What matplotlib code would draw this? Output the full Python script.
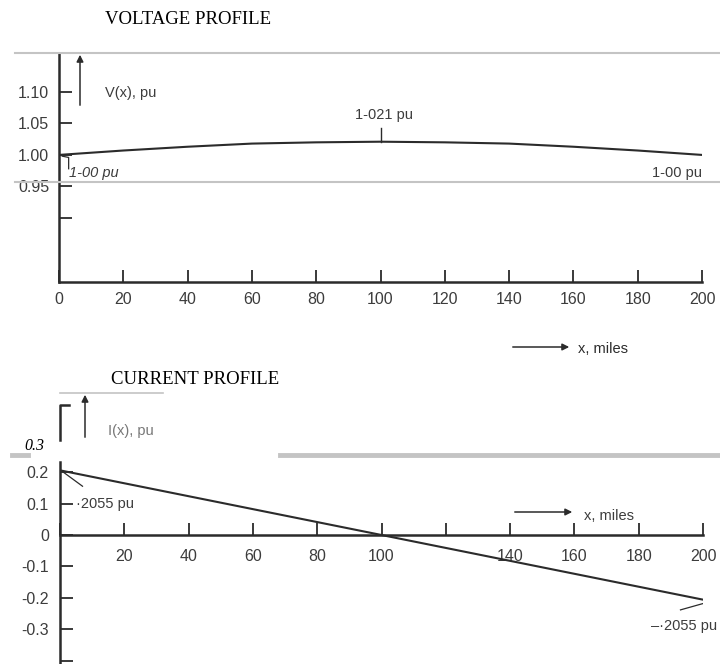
import matplotlib.pyplot as plt

# voltage profile along the 200-mile line
miles = [0, 20, 40, 60, 80, 100, 120, 140, 160, 180, 200]
voltage_pu = [1.000, 1.007, 1.013, 1.018, 1.020, 1.021, 1.020, 1.018, 1.013, 1.007, 1.000]

# current profile: straight line from +0.2055 to -0.2055 pu
current_miles = [0, 200]
current_pu = [0.2055, -0.2055]

v_ticks = [1.10, 1.05, 1.00, 0.95, 0.90]
v_tick_labels = ['1.10', '1.05', '1.00', '0.95', '']
i_ticks = [0.2, 0.1, 0, -0.1, -0.2, -0.3, -0.4]
i_tick_labels = ['0.2', '0.1', '0', '-0.1', '-0.2', '-0.3', '']
x_ticks = [0, 20, 40, 60, 80, 100, 120, 140, 160, 180, 200]
x_labels_top = ['0', '20', '40', '60', '80', '100', '120', '140', '160', '180', '200']
x_labels_bot = ['', '20', '40', '60', '80', '100', '', '140', '160', '180', '200']

W, H = 720, 664
ink = '#2b2b2b'
lbl = '#3c3c3c'
sans = 'Liberation Sans'
serif = 'Liberation Serif'


def px(x, y):
    # pixel (from top-left) -> figure fraction
    return x / W, 1 - y / H


def box(x0, y0, x1, y1):
    return [x0 / W, 1 - y1 / H, (x1 - x0) / W, (y1 - y0) / H]


fig = plt.figure(figsize=(W / 100, H / 100), dpi=100)


def style(ax):
    for s in ['top', 'right']:
        ax.spines[s].set_visible(False)
    for s in ['left', 'bottom']:
        ax.spines[s].set_linewidth(1.8)
        ax.spines[s].set_color(ink)
    ax.set_facecolor('none')
    ax.set_xlim(0, 200)
    ax.set_xticks(x_ticks)
    ax.tick_params(direction='in', length=9, width=1.3, color=ink,
                   labelsize=11.5, labelcolor=lbl)


# ---- voltage profile ----
ax1 = fig.add_axes(box(59, 53, 702, 282))
style(ax1)
ax1.set_ylim(0.798, 1.162)
ax1.plot(miles, voltage_pu, color=ink, lw=1.5)
ax1.set_yticks(v_ticks, v_tick_labels, fontfamily=sans)
ax1.set_xticklabels(x_labels_top, fontfamily=sans)
ax1.tick_params(axis='y', pad=7)
ax1.tick_params(axis='x', pad=7)
ax1.annotate('', xy=(201, 1.0), xytext=(194, 1.0015),
             arrowprops=dict(arrowstyle='-|>', color=ink, lw=1.0, mutation_scale=9))
ax1.plot([100, 100], [1.043, 1.02], color=ink, lw=1.0)
ax1.text(101, 1.063, '1-021 pu', ha='center', va='center', fontsize=10.5,
         family=sans, color=lbl)
ax1.plot([1, 3, 3], [0.998, 0.996, 0.978], color=ink, lw=0.9, clip_on=False)
ax1.text(3, 0.972, '1-00 pu', ha='left', va='center', fontsize=10.5,
         family=sans, color=lbl, style='italic')
ax1.text(200, 0.972, '1-00 pu', ha='right', va='center', fontsize=10.5,
         family=sans, color=lbl)

# ---- current profile ----
ax2 = fig.add_axes(box(60, 462, 703, 664))
style(ax2)
ax2.set_ylim(-0.41, 0.232)
ax2.spines['bottom'].set_position(('data', 0))
ax2.plot(current_miles, current_pu, color=ink, lw=1.5)
ax2.set_yticks(i_ticks, i_tick_labels, fontfamily=sans)
ax2.set_xticklabels(x_labels_bot, fontfamily=sans)
ax2.tick_params(axis='y', pad=8)
ax2.tick_params(axis='x', pad=10)
ax2.plot([1, 7], [0.2, 0.155], color=ink, lw=0.9)
ax2.text(5, 0.1, '·2055 pu', ha='left', va='center', fontsize=10.5,
         family=sans, color=lbl)
ax2.plot([193, 201], [-0.238, -0.215], color=ink, lw=0.9)
ax2.text(204.5, -0.29, '–·2055 pu', ha='right', va='center', fontsize=10.5,
         family=sans, color=lbl)

# ---- figure-level furniture ----
def hline(y, x0, x1, lw, color='#c4c4c4'):
    fig.add_artist(plt.Line2D([x0 / W, x1 / W], [1 - y / H, 1 - y / H],
                              color=color, lw=lw))


hline(53, 15, 720, 1.5)
hline(182, 15, 720, 1.5)
hline(393, 60, 163, 1.2)
hline(455, 12, 28, 3.5)
hline(455, 280, 720, 3.5)

fig.text(*px(188, 19), 'VOLTAGE PROFILE', ha='center', va='center',
         family=serif, fontsize=13.5)
fig.text(*px(195, 379), 'CURRENT PROFILE', ha='center', va='center',
         family=serif, fontsize=13.5)
fig.text(*px(24, 446), '0.3', ha='left', va='center', family=serif,
         fontsize=11.5, style='italic')

arrow = dict(arrowstyle='-|>', color=ink, lw=1.1, mutation_scale=10)
fig.add_artist(plt.Annotation('', xy=px(80, 52), xytext=px(80, 108),
                              xycoords='figure fraction', arrowprops=arrow))
fig.text(*px(105, 93), 'V(x), pu', ha='left', va='center', family=sans,
         fontsize=10.5, color=lbl)

fig.add_artist(plt.Annotation('', xy=px(85, 392), xytext=px(85, 440),
                              xycoords='figure fraction', arrowprops=arrow))
fig.add_artist(plt.Line2D([60 / W, 60 / W, 69 / W],
                          [1 - 440 / H, 1 - 405 / H, 1 - 405 / H], color=ink, lw=1.8))
fig.text(*px(108, 431), 'I(x), pu', ha='left', va='center', family=sans,
         fontsize=10.5, color='#777777')

fig.add_artist(plt.Annotation('', xy=px(572, 347), xytext=px(510, 347),
                              xycoords='figure fraction', arrowprops=arrow))
fig.text(*px(578, 349), 'x, miles', ha='left', va='center', family=sans,
         fontsize=10.5, color=ink)
fig.add_artist(plt.Annotation('', xy=px(575, 512), xytext=px(512, 512),
                              xycoords='figure fraction', arrowprops=arrow))
fig.text(*px(584, 516), 'x, miles', ha='left', va='center', family=sans,
         fontsize=10.5, color=lbl)

fig.savefig('out.png', dpi=100)
